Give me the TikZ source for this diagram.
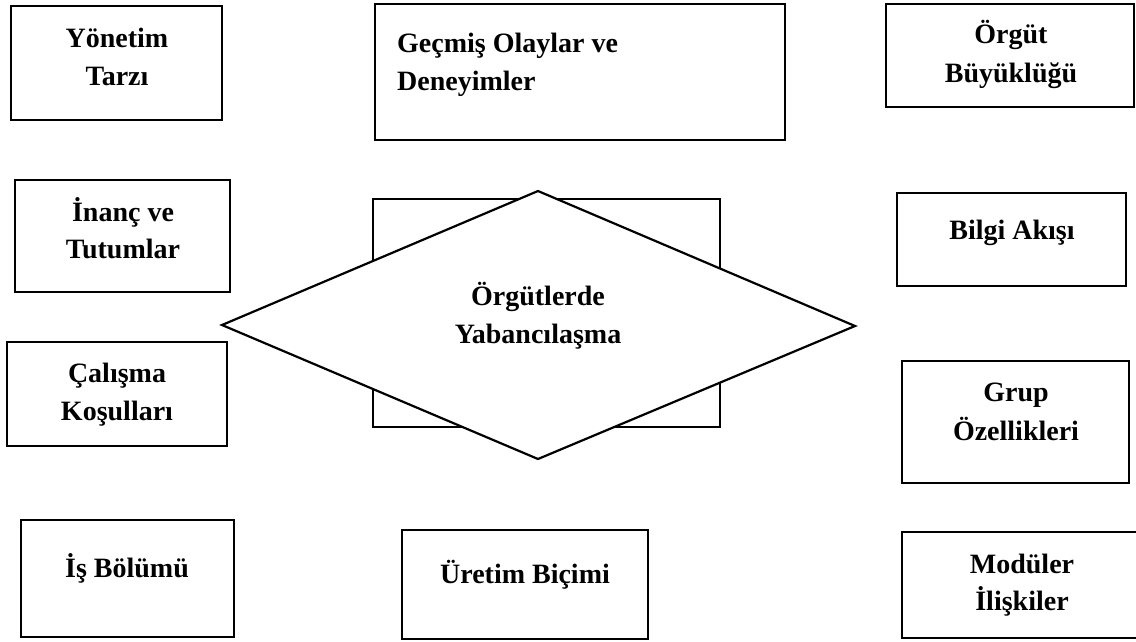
\documentclass[tikz,border=0pt]{standalone}
\usepackage{fontspec}
\setmainfont{Liberation Serif}
\begin{document}
\begin{tikzpicture}[x=1pt,y=-1pt,
  box/.style={draw, line width=2.5pt, inner sep=0pt, outer sep=0pt},
  dia/.style={draw, line width=2.2pt, fill=white, line join=miter},
  txt/.style={font=\fontsize{28}{38}\selectfont\bfseries, inner sep=0pt, anchor=base},
  txtw/.style={txt, anchor=base west}]
\useasboundingbox (0,0) rectangle (1136,641);
% left column
\node[box, minimum width=211pt, minimum height=114pt] (yon) at (116.5,63) {};
\node[txt] (yon1) at (117,47) {Yönetim};
\node[txt] (yon2) at (117,85) {Tarzı};
\node[box, minimum width=215pt, minimum height=112pt] (inanc) at (122.5,236) {};
\node[txt] (inanc1) at (123,221) {İnanç ve};
\node[txt] (inanc2) at (123,258) {Tutumlar};
\node[box, minimum width=220pt, minimum height=104pt] (cal) at (117,394) {};
\node[txt] (cal1) at (117,382) {Çalışma};
\node[txt] (cal2) at (117,420) {Koşulları};
\node[box, minimum width=213pt, minimum height=117pt] (isb) at (127.5,578.5) {};
\node[txt] (isb1) at (127,577) {İş Bölümü};
% middle column
\node[box, minimum width=410pt, minimum height=136pt] (gec) at (580,72) {};
\node[txtw] (gec1) at (397,52) {Geçmiş Olaylar ve};
\node[txtw] (gec2) at (397,90) {Deneyimler};
\node[box, line width=2.2pt, minimum width=347pt, minimum height=228pt] (core) at (546.5,313) {};
\coordinate (dl) at (222,325);
\coordinate (dt) at (538,191);
\coordinate (dr) at (855,326);
\coordinate (db) at (538,459);
\draw[dia] (dl) -- (dt) -- (dr) -- (db) -- cycle;
\node[txt] (core1) at (538,305) {Örgütlerde};
\node[txt] (core2) at (538,343) {Yabancılaşma};
\node[box, minimum width=246pt, minimum height=109pt] (ure) at (525,584.5) {};
\node[txt] (ure1) at (525,583) {Üretim Biçimi};
% right column
\node[box, minimum width=248pt, minimum height=103pt] (org) at (1010,55.5) {};
\node[txt] (org1) at (1011,43) {Örgüt};
\node[txt] (org2) at (1011,82) {Büyüklüğü};
\node[box, minimum width=229pt, minimum height=93pt] (bil) at (1011.5,239.5) {};
\node[txt] (bil1) at (1012,239) {Bilgi Akışı};
\node[box, minimum width=227pt, minimum height=122pt] (grp) at (1015.5,422) {};
\node[txt] (grp1) at (1016,401) {Grup};
\node[txt] (grp2) at (1016,440) {Özellikleri};
\node[box, minimum width=240pt, minimum height=106pt] (mod) at (1022,585) {};
\node[txt] (mod1) at (1022,573) {Modüler};
\node[txt] (mod2) at (1022,610) {İlişkiler};
\end{tikzpicture}
\end{document}
